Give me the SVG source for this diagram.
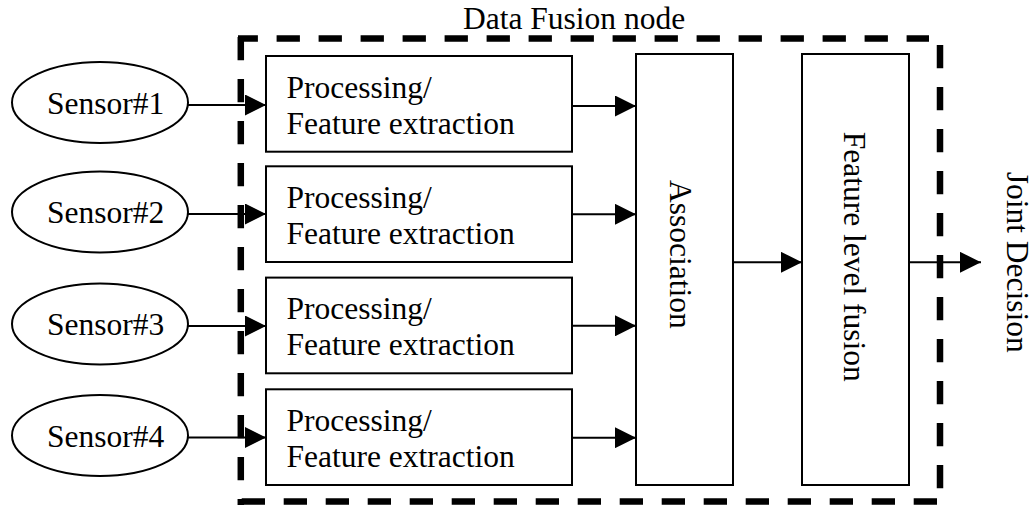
<svg xmlns="http://www.w3.org/2000/svg" width="1032" height="506" viewBox="0 0 1032 506">
  <style>
    text { font-family: "Liberation Serif", "Times New Roman", serif; font-size: 31.5px; fill: #000; }
    .box { fill: #fff; stroke: #000; stroke-width: 2; }
    .link { stroke: #000; stroke-width: 2; fill: none; marker-end: url(#head); }
    .border { stroke: #000; stroke-width: 6.5; fill: none; stroke-dasharray: 23.3 18.7; }
  </style>
  <defs>
    <marker id="head" markerUnits="userSpaceOnUse" markerWidth="21" markerHeight="21" refX="21" refY="10.5" orient="auto">
      <path d="M0,0 L21,10.5 L0,21 Z" fill="#000"/>
    </marker>
  </defs>

  <!-- fusion node boundary -->
  <g id="fusion-node">
    <line class="border" x1="238" y1="38.5" x2="929" y2="38.5" stroke-dashoffset="3.4"/>
    <line class="border" x1="940" y1="45" x2="940" y2="488.5"/>
    <line class="border" x1="937" y1="501.5" x2="238" y2="501.5" stroke-dasharray="24.5 17.6"/>
    <line class="border" x1="240.8" y1="37" x2="240.8" y2="505"/>
    <text x="463" y="29">Data Fusion node</text>
  </g>

  <!-- connectors -->
  <g id="connectors">
    <line class="link" x1="188" y1="105" x2="266" y2="105"/>
    <line class="link" x1="188" y1="214" x2="266" y2="214"/>
    <line class="link" x1="188" y1="326" x2="266" y2="326"/>
    <line class="link" x1="188" y1="437.5" x2="266" y2="437.5"/>
    <line class="link" x1="572" y1="106" x2="636" y2="106"/>
    <line class="link" x1="572" y1="214.3" x2="636" y2="214.3"/>
    <line class="link" x1="572" y1="325.8" x2="636" y2="325.8"/>
    <line class="link" x1="572" y1="437.7" x2="636" y2="437.7"/>
    <line class="link" x1="733" y1="262.3" x2="802" y2="262.3"/>
    <line class="link" x1="909" y1="262.3" x2="981" y2="262.3"/>
  </g>

  <!-- sensors -->
  <g id="sensor1">
    <ellipse class="box" cx="100" cy="102.5" rx="88" ry="40.5"/>
    <text x="47" y="113.5">Sensor#1</text>
  </g>
  <g id="sensor2">
    <ellipse class="box" cx="100" cy="212" rx="88" ry="40.5"/>
    <text x="47" y="223">Sensor#2</text>
  </g>
  <g id="sensor3">
    <ellipse class="box" cx="100" cy="324" rx="88" ry="40.5"/>
    <text x="47" y="335">Sensor#3</text>
  </g>
  <g id="sensor4">
    <ellipse class="box" cx="100" cy="435.5" rx="88" ry="40.5"/>
    <text x="47" y="447">Sensor#4</text>
  </g>

  <!-- processing / feature extraction -->
  <g id="proc1">
    <rect class="box" x="266" y="56" width="306" height="95.7"/>
    <text x="286.5" y="97.5">Processing/</text>
    <text x="286.5" y="133.5">Feature extraction</text>
  </g>
  <g id="proc2">
    <rect class="box" x="266" y="166.3" width="306" height="95.7"/>
    <text x="286.5" y="207.5">Processing/</text>
    <text x="286.5" y="243.8">Feature extraction</text>
  </g>
  <g id="proc3">
    <rect class="box" x="266" y="277.6" width="306" height="95.7"/>
    <text x="286.5" y="319">Processing/</text>
    <text x="286.5" y="355">Feature extraction</text>
  </g>
  <g id="proc4">
    <rect class="box" x="266" y="389.3" width="306" height="95.7"/>
    <text x="286.5" y="430.5">Processing/</text>
    <text x="286.5" y="466.5">Feature extraction</text>
  </g>

  <!-- association -->
  <g id="association">
    <rect class="box" x="636" y="54" width="97" height="431"/>
    <text transform="translate(670,180) rotate(90)">Association</text>
  </g>

  <!-- feature level fusion -->
  <g id="feature-fusion">
    <rect class="box" x="802" y="54" width="107" height="431"/>
    <text transform="translate(843.5,131.7) rotate(90)">Feature level fusion</text>
  </g>

  <!-- output -->
  <g id="joint-decision">
    <text transform="translate(1007,171.7) rotate(90)">Joint Decision</text>
  </g>
</svg>
